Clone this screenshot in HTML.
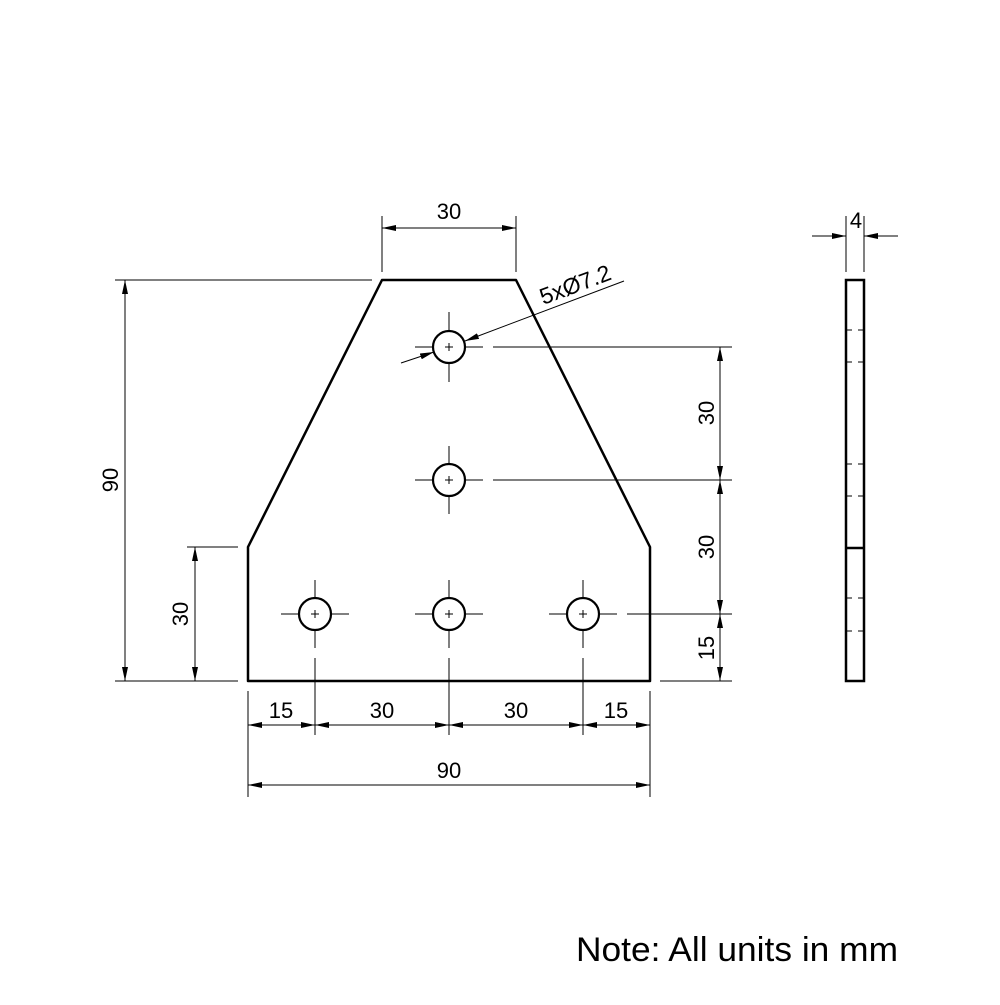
<!DOCTYPE html>
<html><head><style>body{margin:0;background:#fff}</style></head><body>
<svg width="1000" height="1000" viewBox="0 0 1000 1000" xmlns="http://www.w3.org/2000/svg" font-family="Liberation Sans, sans-serif">
<defs>
<marker id="a" viewBox="0 0 14 6" refX="14" refY="3" markerWidth="14" markerHeight="6" markerUnits="userSpaceOnUse" orient="auto-start-reverse"><path d="M0,0L14,3L0,6z" fill="#000"/></marker>
</defs>
<g fill="none" stroke="#000">
<path d="M382,280 L516,280 L650,547 L650,681 L248,681 L248,547 Z" stroke-width="2.5" stroke-linejoin="round"/>
<g stroke-width="2.2">
<circle cx="449" cy="347" r="16"/><circle cx="449" cy="480" r="16"/>
<circle cx="315" cy="614" r="16"/><circle cx="449" cy="614" r="16"/><circle cx="583" cy="614" r="16"/>
</g>
<g stroke-width="1">
<path d="M449,312V331M449,363V382M415,347H433M465,347H483M445,347h8M449,343v8"/>
<path d="M449,446V464M449,496V514M415,480H433M465,480H483M445,480h8M449,476v8"/>
<path d="M315,580V598M315,630V648M281,614H299M331,614H349M311,614h8M315,610v8"/>
<path d="M449,580V598M449,630V648M415,614H433M465,614H483M445,614h8M449,610v8"/>
<path d="M583,580V598M583,630V648M549,614H567M599,614H617M579,614h8M583,610v8"/>
<!-- extension lines -->
<path d="M382,216V272M516,216V272"/>
<path d="M115,280H372M115,681H238M187,547H238"/>
<path d="M493,347H732M493,480H732M627,614H732M660,681H732"/>
<path d="M248,691V797M315,658V735M449,658V735M583,658V735M650,691V797"/>
<!-- dims -->
<path d="M382,228H516" marker-start="url(#a)" marker-end="url(#a)"/>
<path d="M125,280V681" marker-start="url(#a)" marker-end="url(#a)"/>
<path d="M195,547V681" marker-start="url(#a)" marker-end="url(#a)"/>
<path d="M720,347V480" marker-start="url(#a)" marker-end="url(#a)"/>
<path d="M720,480V614" marker-start="url(#a)" marker-end="url(#a)"/>
<path d="M720,614V681" marker-start="url(#a)" marker-end="url(#a)"/>
<path d="M248,725H315" marker-start="url(#a)" marker-end="url(#a)"/>
<path d="M315,725H449" marker-start="url(#a)" marker-end="url(#a)"/>
<path d="M449,725H583" marker-start="url(#a)" marker-end="url(#a)"/>
<path d="M583,725H650" marker-start="url(#a)" marker-end="url(#a)"/>
<path d="M248,785H650" marker-start="url(#a)" marker-end="url(#a)"/>
<!-- leader -->
<path d="M401,363L434,352" marker-end="url(#a)"/>
<path d="M624,281L465,341" marker-end="url(#a)"/>
<!-- side view -->
<path d="M846,216V272M864,216V272"/>
<path d="M812,236H846" marker-end="url(#a)"/>
<path d="M898,236H864" marker-end="url(#a)"/>
<path d="M846,330h6M858,330h6M846,362h6M858,362h6M846,464h6M858,464h6M846,496h6M858,496h6M846,598h6M858,598h6M846,631h6M858,631h6"/>
</g>
<rect x="846" y="280" width="18" height="401" stroke-width="2.5"/>
<path d="M846,548H864" stroke-width="2.5"/>
</g>
<g font-size="22" fill="#000" text-anchor="middle">
<text x="449" y="219">30</text>
<text x="856" y="228">4</text>
<text x="281" y="718">15</text>
<text x="382" y="718">30</text>
<text x="516" y="718">30</text>
<text x="616" y="718">15</text>
<text x="449" y="778">90</text>
<text transform="translate(118,480) rotate(-90)">90</text>
<text transform="translate(188,614) rotate(-90)">30</text>
<text transform="translate(714,413) rotate(-90)">30</text>
<text transform="translate(714,547) rotate(-90)">30</text>
<text transform="translate(714,648) rotate(-90)">15</text>
<text transform="translate(578,292) rotate(-20.6)" font-size="23">5xØ7.2</text>
</g>
<text x="737" y="961" font-size="34" text-anchor="middle" fill="#000" textLength="322" lengthAdjust="spacingAndGlyphs">Note: All units in mm</text>
</svg>
</body></html>
